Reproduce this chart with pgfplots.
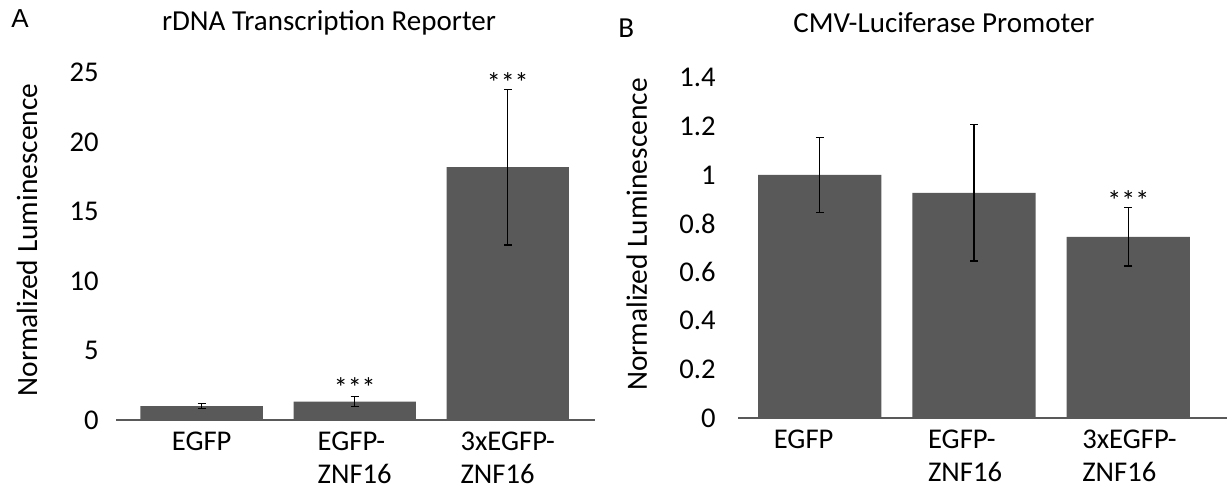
\documentclass[border=0pt]{standalone}
\usepackage{pgfplots}
\pgfplotsset{compat=1.18}
\usepackage{fontspec}
\setmainfont{Carlito}
\newfontfamily\arialf{Liberation Sans}
\definecolor{barc}{HTML}{595959}
\begin{document}
\begin{tikzpicture}
\useasboundingbox (0,0) rectangle (613.5pt,-248.5pt);
\pgfplotsset{
 mystyle/.style={
  scale only axis, ybar, bar width=0.8, ymin=0,
  axis x line*=bottom, axis y line*=left,
  y axis line style={draw=none},
  x axis line style={draw=gray!70!black, line width=0.6pt, -},
  major tick length=0,
  xtick={0,1,2},
  xticklabels={EGFP,{EGFP-\\ZNF16},{3xEGFP-\\ZNF16}},
  tick label style={font=\fontsize{14.3}{16.5}\selectfont},
  xticklabel style={align=left, yshift=-2.5pt},
  /pgf/number format/assume math mode=true,
  ylabel={Normalized Luminescence},
  ylabel style={font=\fontsize{14.7}{16}\selectfont, anchor=center},
  clip=false,
 },
 mybar/.style={fill=barc, draw=none,
  error bars/.cd, y dir=both, y explicit,
  error bar style={black, line width=0.6pt},
  error mark options={rotate=90, mark size=2pt, black, line width=0.6pt}},
}
\node[font=\arialf\fontsize{13}{15}\selectfont, anchor=base west, inner sep=0pt] at (5.5pt,-14pt) {A};
\node[font=\fontsize{14.5}{16}\selectfont, anchor=base west, inner sep=0pt] at (309pt,-19pt) {B};
\node[font=\fontsize{14.5}{16}\selectfont, anchor=base, inner sep=0pt] at (164.5pt,-15.5pt) {rDNA Transcription Reporter};
\node[font=\fontsize{14.5}{16}\selectfont, anchor=base, inner sep=0pt] at (472pt,-16.5pt) {CMV-Luciferase Promoter};

\begin{axis}[mystyle, at={(58pt,-210pt)}, anchor=south west,
  width=239.5pt, height=173.65pt, xmin=-0.56, xmax=2.57, ymax=25,
  ytick={0,5,10,15,20,25},
  yticklabel style={xshift=-5.2pt},
  ylabel style={at={(axis description cs:-0.186,0.518)}}]
\addplot[mybar] coordinates {(0,1.0) +- (0,0.2) (1,1.33) +- (0,0.35) (2,18.2) +- (0,5.6)};
\node[font=\fontsize{14}{16}\selectfont, anchor=base] at (axis cs:1,1.6) {***};
\node[font=\fontsize{14}{16}\selectfont, anchor=base] at (axis cs:2,23.6) {***};
\end{axis}

\begin{axis}[mystyle, at={(369pt,-209pt)}, anchor=south west,
  width=244.5pt, height=170.15pt, xmin=-0.53, xmax=2.64, ymax=1.4,
  ytick={0,0.2,0.4,0.6,0.8,1,1.2,1.4},
  yticklabel style={xshift=-7.7pt},
  xticklabel style={anchor=north west, xshift=-26.5pt},
  ylabel style={at={(axis description cs:-0.207,0.539)}}]
\addplot[mybar] coordinates {(0,1.0) +- (0,0.155) (1,0.926) +- (0,0.28) (2,0.745) +- (0,0.12)};
\node[font=\fontsize{14}{16}\selectfont, anchor=base] at (axis cs:2,0.855) {***};
\end{axis}
\end{tikzpicture}
\end{document}
